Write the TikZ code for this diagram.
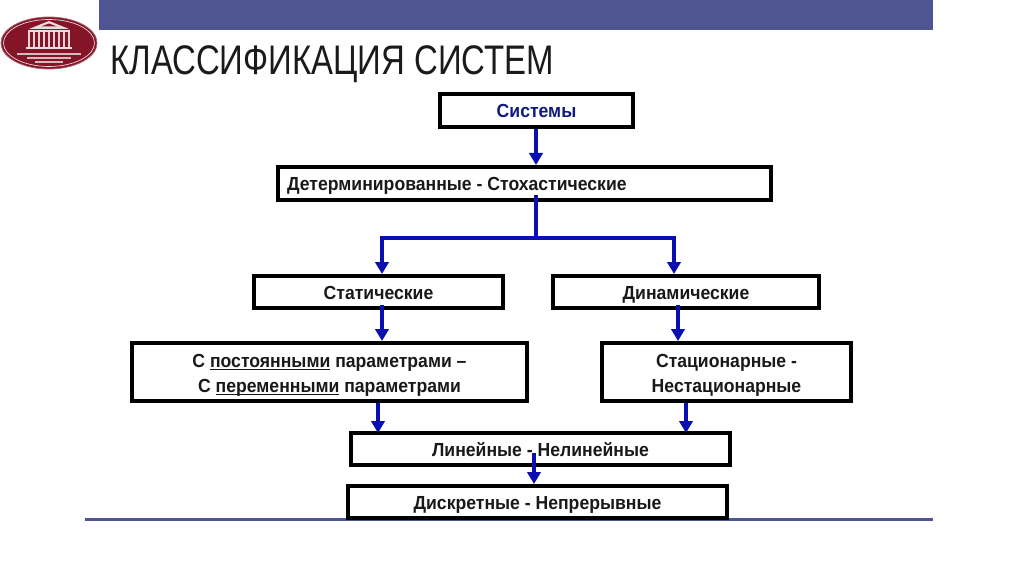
\documentclass[tikz,border=0pt]{standalone}
\usepackage{fontspec}
\setmainfont{Liberation Sans}
\newfontfamily\boxfont[FakeStretch=0.93]{Liberation Sans}
\usetikzlibrary{arrows.meta,calc}
\definecolor{barblue}{HTML}{4F5590}
\definecolor{linkblue}{HTML}{0A0FB0}
\definecolor{logored}{HTML}{841528}
\definecolor{sysblue}{HTML}{101A80}
\definecolor{titleink}{HTML}{1A1A1A}
\newsavebox{\ulbox}
\newcommand{\ulword}[1]{\sbox{\ulbox}{#1}\rlap{\usebox{\ulbox}}\rule[-2.4pt]{\wd\ulbox}{0.9pt}}
\newcommand{\onestrut}{\rule[-3pt]{0pt}{16.5pt}}
\newcommand{\topstrut}{\rule[-3pt]{0pt}{17.25pt}}
\newcommand{\botstrut}{\rule[-3pt]{0pt}{3pt}}
\tikzset{
  x=0.75pt,y=-0.75pt,
  boxnode/.style={draw=black,fill=white,line width=2.7pt,inner sep=0pt,align=center,font=\boxfont\fontsize{14.2}{18.75}\selectfont\bfseries,text=black!90},
  link/.style={draw=linkblue,line width=3pt,-{Triangle[length=9pt,width=10pt]}},
  plainlink/.style={draw=linkblue,line width=3pt}
}
\begin{document}
\begin{tikzpicture}
\useasboundingbox (0,0) rectangle (1024,574);
\fill[white] (0,0) rectangle (1024,574);
\fill[barblue] (99,0) rectangle (933,30);
\draw[barblue,line width=1.6pt] (85,519.5) -- (933,519.5);
% logo
\fill[logored,draw=logored!70!white,line width=0.6pt] (49,43) ellipse [x radius=48,y radius=26];
\draw[white!85!logored,line width=0.5pt] (49,43) ellipse [x radius=45.5,y radius=23.5];
\fill[white!85!logored] (29,29) -- (49,21) -- (69,29) -- cycle;
\fill[logored] (41,26.5) -- (49,23.5) -- (57,26.5) -- cycle;
\fill[white!85!logored] (28,30) rectangle (70,32);
\foreach \cx in {29,34,39,44,49,54,59,64,69}{\fill[white!80!logored] (\cx-1.4,32) rectangle (\cx+1.4,47);}
\fill[white!85!logored] (26,47) rectangle (72,49);
\draw[white!70!logored,line width=1pt] (17,54) -- (81,54);
\draw[white!70!logored,line width=1pt] (27,58) -- (71,58);
\draw[white!70!logored,line width=1pt] (35,62) -- (63,62);
% title
\node[anchor=west,inner sep=0pt,text=titleink] (title) at (110,64) {\fontsize{31}{36}\selectfont\scalebox{0.797}[1]{КЛАССИФИКАЦИЯ СИСТЕМ}};
% boxes
\node[boxnode,text=sysblue,minimum width=147.75pt-2.7pt,minimum height=27.75pt-2.7pt] (sys) at (536.5,110.5) {\onestrut Системы};
\node[boxnode,minimum width=372.75pt-2.7pt,minimum height=27.75pt-2.7pt] (det) at (524.5,183.5) {\makebox[365pt][l]{\onestrut\hspace*{4.5pt}Детерминированные - Стохастические}};
\node[boxnode,minimum width=189.75pt-2.7pt,minimum height=27pt-2.7pt] (stat) at (378.5,292) {\onestrut Статические};
\node[boxnode,minimum width=202.5pt-2.7pt,minimum height=27pt-2.7pt] (dyn) at (686,292) {\onestrut Динамические};
\node[boxnode,minimum width=299.25pt-2.7pt,minimum height=46.5pt-2.7pt] (par) at (329.5,372) {\topstrut С \ulword{постоянными} параметрами –\\\botstrut С \ulword{переменными} параметрами};
\node[boxnode,minimum width=189.75pt-2.7pt,minimum height=46.5pt-2.7pt] (stac) at (726.5,372) {\topstrut Стационарные -\\\botstrut Нестационарные};
\node[boxnode,minimum width=287.25pt-2.7pt,minimum height=27pt-2.7pt] (lin) at (540.5,449) {\onestrut Линейные - Нелинейные};
\node[boxnode,minimum width=287.25pt-2.7pt,minimum height=27pt-2.7pt] (dis) at (537.5,502) {\onestrut Дискретные - Непрерывные};
% connector points
\coordinate (fork) at (536,238);
\coordinate (forkl) at (382,238);
\coordinate (forkr) at (674,238);
\coordinate (dynx) at (678,0);
\coordinate (parx) at (378,0);
\coordinate (stacx) at (686,0);
\coordinate (linx) at (534,0);
% connectors
\draw[link] (sys.south -| fork) -- (det.north -| fork);
\draw[plainlink] ($(det.south -| fork)+(0,-7)$) -- (fork);
\draw[plainlink] ([xshift=-1.5pt]forkl) -- ([xshift=1.5pt]forkr);
\draw[link] (forkl) -- (stat.north -| forkl);
\draw[link] (forkr) -- (stat.north -| forkr);
\draw[link] ($(stat.south -| forkl)+(0,-5)$) -- (par.north -| forkl);
\draw[link] ($(dyn.south -| dynx)+(0,-5)$) -- (stac.north -| dynx);
\draw[link] (par.south -| parx) -- ($(lin.north -| parx)+(0,2)$);
\draw[link] (stac.south -| stacx) -- ($(lin.north -| stacx)+(0,2)$);
\draw[link] ($(lin.south -| linx)+(0,-14)$) -- (dis.north -| linx);
\end{tikzpicture}
\end{document}
